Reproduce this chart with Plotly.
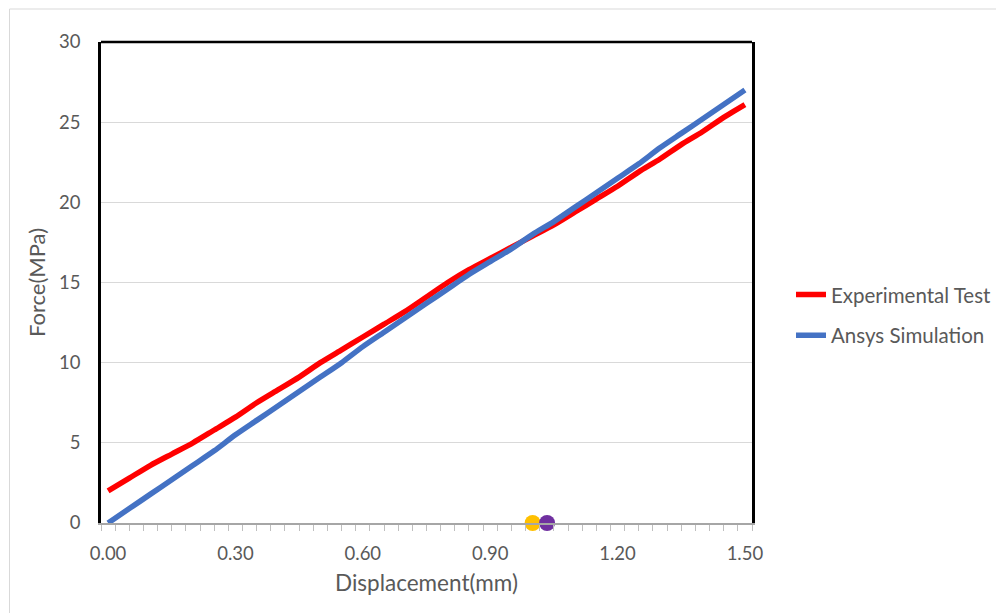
import plotly.graph_objects as go

displacement = [0.00, 0.05, 0.10, 0.15, 0.20, 0.25, 0.30, 0.35, 0.40, 0.45,
                0.50, 0.55, 0.60, 0.65, 0.70, 0.75, 0.80, 0.85, 0.90, 0.95,
                1.00, 1.05, 1.10, 1.15, 1.20, 1.25, 1.30, 1.35, 1.40, 1.45, 1.50]
experimental = [2.0, 2.8, 3.6, 4.3, 5.0, 5.8, 6.6, 7.5, 8.3, 9.1,
                10.0, 10.8, 11.6, 12.4, 13.2, 14.1, 15.0, 15.8, 16.5, 17.2,
                17.9, 18.6, 19.4, 20.2, 21.0, 21.9, 22.7, 23.6, 24.4, 25.3, 26.1]
ansys = [0.0, 0.9, 1.8, 2.7, 3.6, 4.5, 5.5, 6.4, 7.3, 8.2,
         9.1, 10.0, 11.0, 11.9, 12.8, 13.7, 14.6, 15.5, 16.3, 17.1,
         18.0, 18.8, 19.7, 20.6, 21.5, 22.4, 23.4, 24.3, 25.2, 26.1, 27.0]
marker_x = [1.00, 1.034]
marker_y = [0, 0]
marker_colors = ["#FFC000", "#7030A0"]
x_ticks = [0.0, 0.3, 0.6, 0.9, 1.2, 1.5]
x_ticklabels = ["0.00", "0.30", "0.60", "0.90", "1.20", "1.50"]
y_ticks = [0, 5, 10, 15, 20, 25, 30]

FONT = "Lato"
TXT = "#595959"

# page offset of the browser body (~8px) compensated in margins
L, T = 93, 34
PW, PH = 651, 481

fig = go.Figure()
fig.add_trace(go.Scatter(x=displacement, y=experimental, mode="lines",
                         name="Experimental Test", legendgroup="a",
                         line=dict(color="#FF0000", width=5.5, shape="spline", smoothing=0.6)))
fig.add_trace(go.Scatter(x=displacement, y=ansys, mode="lines",
                         name="Ansys Simulation", legendgroup="b",
                         line=dict(color="#4472C4", width=5.5, shape="spline", smoothing=0.6)))
for xv, yv, c in zip(marker_x, marker_y, marker_colors):
    fig.add_trace(go.Scatter(x=[xv], y=[yv], mode="markers", showlegend=False,
                             cliponaxis=False,
                             marker=dict(color=c, size=16, line=dict(width=0))))

fig.update_layout(
    width=1004, height=613,
    margin=dict(l=L, r=1004 - L - PW, t=T, b=613 - T - PH),
    paper_bgcolor="white", plot_bgcolor="white",
    font=dict(family=FONT, color=TXT, size=18),
    legend=dict(x=(791 - 101) / 651, xanchor="left", y=0.432, yanchor="middle",
                font=dict(size=20.5, color=TXT), tracegroupgap=11,
                bgcolor="rgba(0,0,0,0)"),
    xaxis=dict(range=[-1 / 60, 1.5 + 1 / 60], tickvals=x_ticks, ticktext=x_ticklabels,
               showgrid=False, zeroline=False, showline=True, linecolor="#A6A6A6",
               linewidth=2, ticks="", ticklabelstandoff=13,
               tickfont=dict(size=18.5, color=TXT),
               minor=dict(ticks="outside", tick0=-1 / 60, dtick=1 / 30, ticklen=6,
                          tickcolor="#BFBFBF", tickwidth=1, showgrid=False),
               title=dict(text="Displacement(mm)", font=dict(size=22.5, color=TXT),
                          standoff=12)),
    yaxis=dict(range=[0, 30], tickvals=y_ticks, showgrid=True, gridcolor="#D9D9D9",
               gridwidth=1, zeroline=False, showline=True, linecolor="black",
               linewidth=2.5, mirror=True, ticks="", ticklabelstandoff=14,
               tickfont=dict(size=18.5, color=TXT),
               title=dict(text="Force(MPa)", font=dict(size=22, color=TXT),
                          standoff=8)),
    shapes=[
        dict(type="line", xref="paper", yref="paper", x0=0, x1=1, y0=1, y1=1,
             line=dict(color="black", width=2.5)),
        dict(type="rect", xref="paper", yref="paper",
             x0=(1.5 - L) / PW, x1=(1010 - 101) / 651,
             y0=(523 - 620) / 481, y1=(523 - 9) / 481,
             line=dict(color="#D9D9D9", width=1)),
    ],
)

fig.write_html("out.html")
